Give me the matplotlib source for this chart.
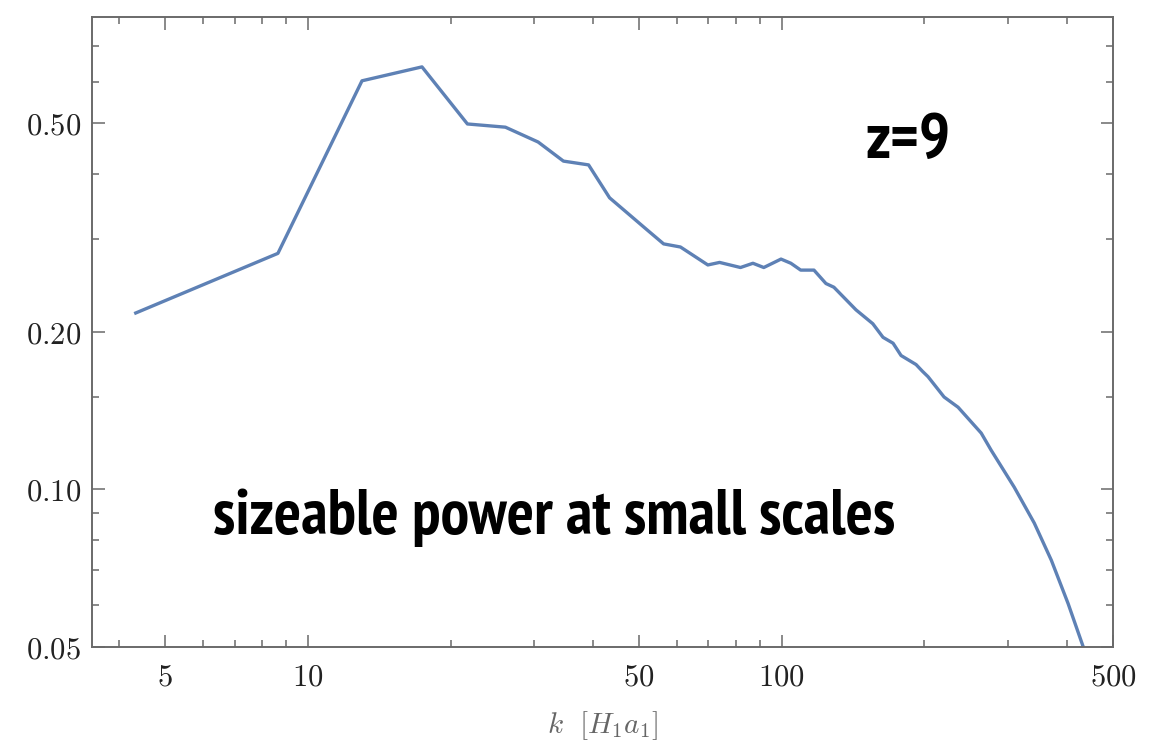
import matplotlib
matplotlib.use("Agg")
import matplotlib.pyplot as plt
from matplotlib.ticker import FixedLocator, FixedFormatter, NullFormatter

plt.rcParams['mathtext.fontset'] = 'cm'

# power spectrum at z=9, read in k [H1 a1]
k = [4.33, 8.64, 13.0, 17.4, 21.7, 26.1, 30.6, 34.6, 39.1, 43.3, 52.1, 56.3,
     61.1, 69.8, 73.9, 81.8, 86.9, 91.6, 99.6, 104.5, 109.6, 116.9, 123.9,
     128.8, 143.4, 155.6, 163.5, 171.7, 178.5, 192.0, 198.0, 203.5, 220.0,
     235.5, 263.5, 276.6, 309.4, 341.0, 370.5, 402.0, 432.7, 450.0]
power = [0.217, 0.282, 0.602, 0.640, 0.498, 0.491, 0.460, 0.423, 0.416, 0.360,
         0.312, 0.294, 0.290, 0.268, 0.271, 0.265, 0.270, 0.265, 0.275, 0.270,
         0.262, 0.262, 0.247, 0.243, 0.220, 0.207, 0.195, 0.190, 0.180, 0.173,
         0.168, 0.164, 0.150, 0.1434, 0.128, 0.1187, 0.1009, 0.0862, 0.0732,
         0.0605, 0.050, 0.043]

x_major = [5, 10, 50, 100, 500]
x_major_labels = ['$5$', '$10$', '$50$', '$100$', '$500$']
x_minor = [4, 6, 7, 8, 9, 20, 30, 40, 60, 70, 80, 90, 200, 300, 400]
y_major = [0.05, 0.10, 0.20, 0.50]
y_major_labels = ['$0.05$', '$0.10$', '$0.20$', '$0.50$']
y_minor = [0.06, 0.07, 0.08, 0.09, 0.15, 0.3, 0.4, 0.6, 0.7]

fig = plt.figure(figsize=(11.7, 7.44), dpi=100)
ax = fig.add_axes([0.0786, 0.1304, 0.8727, 0.8468])

ax.plot(k, power, color='#5e81b5', lw=2.4, solid_joinstyle='round')
ax.set_xscale('log')
ax.set_yscale('log')
ax.set_xlim(3.5, 500)
ax.set_ylim(0.05, 0.797)

ax.xaxis.set_major_locator(FixedLocator(x_major))
ax.xaxis.set_major_formatter(FixedFormatter(x_major_labels))
ax.xaxis.set_minor_locator(FixedLocator(x_minor))
ax.xaxis.set_minor_formatter(NullFormatter())
ax.yaxis.set_major_locator(FixedLocator(y_major))
ax.yaxis.set_major_formatter(FixedFormatter(y_major_labels))
ax.yaxis.set_minor_locator(FixedLocator(y_minor))
ax.yaxis.set_minor_formatter(NullFormatter())

for s in ax.spines.values():
    s.set_color('#6a6a6a')
    s.set_linewidth(1.4)
ax.tick_params(which='both', direction='in', top=True, right=True,
               color='#6a6a6a', width=1.1)
ax.tick_params(which='major', length=9, labelsize=22, labelcolor='#222222')
ax.tick_params(which='minor', length=5)
ax.tick_params(axis='x', which='major', pad=11)
ax.tick_params(axis='y', which='major', pad=8)

ax.set_xlabel(r'$k\ \ [H_1 a_1]$', fontsize=21, color='#666666', labelpad=13)

ax.text(0.799, 0.776, 'z=9', transform=ax.transAxes, ha='center',
        va='baseline', fontsize=47, fontweight='bold',
        family='PT Sans Narrow')
ax.text(0.1185, 0.179, 'sizeable power at small scales', transform=ax.transAxes,
        ha='left', va='baseline', fontsize=46, fontweight='bold',
        family='PT Sans Narrow')

fig.savefig('out.png', dpi=100)
